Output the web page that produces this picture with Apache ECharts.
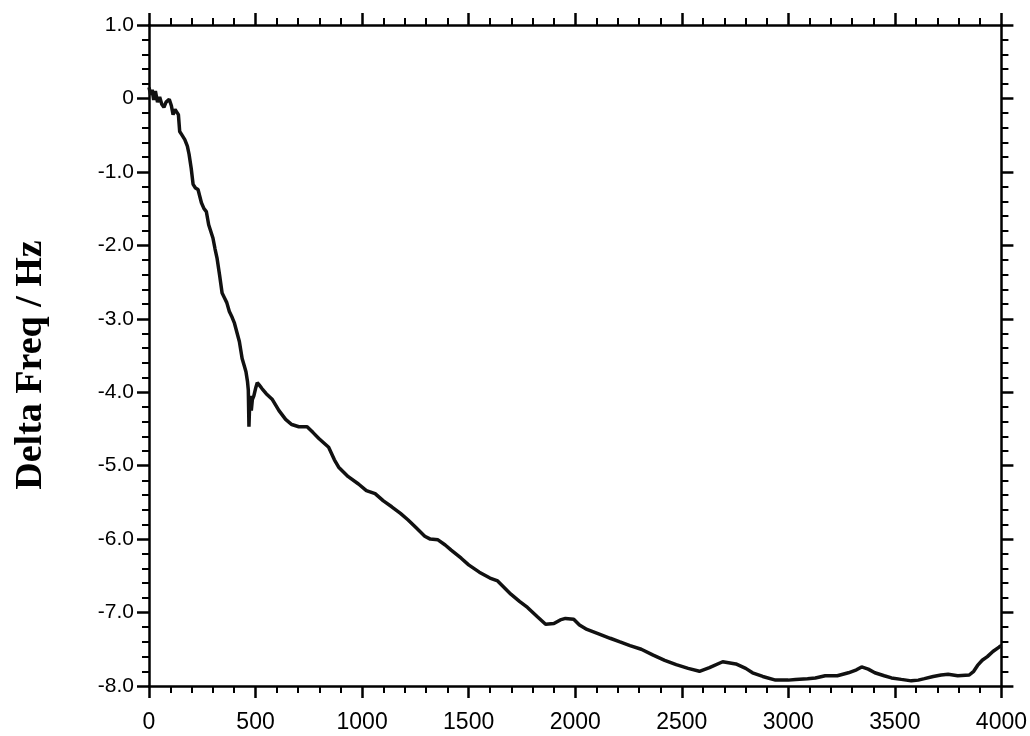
<!DOCTYPE html>
<html>
<head>
<meta charset="utf-8">
<script src="https://cdn.jsdelivr.net/npm/echarts@6/dist/echarts.min.js"></script>
<style>
html,body{margin:0;padding:0;background:#fff;}
#chart{width:1030px;height:736px;}
</style>
</head>
<body>
<div id="chart"></div>
<script>
var timeS = [0,8,15,22,30,40,50,60,70,80,95,105,113,122,129,138,144,155,168,180,188,198,207,218,230,246,258,269,280,300,310,319,331,343,355,365,377,390,401,412,424,437,447,455,462,466,469,472,476,480,485,492,500,508,517,530,550,579,610,641,670,703,742,770,797,843,870,890,935,983,1020,1061,1100,1139,1180,1216,1255,1294,1320,1356,1390,1418,1465,1500,1550,1600,1636,1698,1740,1776,1820,1861,1900,1930,1954,1993,2020,2055,2110,2164,2210,2257,2310,2366,2420,2474,2530,2583,2630,2692,2754,2800,2832,2880,2940,3000,3034,3090,3127,3173,3230,3282,3320,3344,3375,3406,3450,3484,3530,3577,3610,3639,3680,3717,3750,3795,3849,3870,3888,3910,3934,3960,3989,4000];
var deltaFreq = [0.15,0.05,0.12,-0.02,0.10,-0.05,0.02,-0.08,-0.12,-0.05,-0.01,-0.10,-0.22,-0.15,-0.17,-0.22,-0.45,-0.50,-0.56,-0.65,-0.76,-0.95,-1.17,-1.22,-1.24,-1.42,-1.50,-1.54,-1.72,-1.90,-2.05,-2.17,-2.40,-2.65,-2.72,-2.78,-2.90,-2.98,-3.06,-3.18,-3.31,-3.54,-3.64,-3.72,-3.85,-3.97,-4.47,-4.20,-4.05,-4.25,-4.10,-4.05,-3.95,-3.87,-3.90,-3.95,-4.02,-4.10,-4.25,-4.37,-4.44,-4.47,-4.47,-4.55,-4.63,-4.75,-4.92,-5.02,-5.15,-5.25,-5.34,-5.38,-5.48,-5.56,-5.65,-5.74,-5.85,-5.96,-6.00,-6.01,-6.08,-6.15,-6.26,-6.35,-6.45,-6.53,-6.57,-6.75,-6.85,-6.93,-7.05,-7.16,-7.15,-7.10,-7.08,-7.09,-7.17,-7.23,-7.29,-7.35,-7.40,-7.45,-7.50,-7.58,-7.65,-7.71,-7.76,-7.80,-7.75,-7.67,-7.70,-7.76,-7.82,-7.87,-7.92,-7.92,-7.91,-7.90,-7.89,-7.86,-7.86,-7.82,-7.78,-7.74,-7.77,-7.82,-7.86,-7.89,-7.91,-7.93,-7.92,-7.90,-7.87,-7.85,-7.84,-7.86,-7.85,-7.80,-7.72,-7.65,-7.60,-7.53,-7.47,-7.45];
var xTicks = {min:0, max:4000, interval:500};
var yTicks = {min:-8, max:1, interval:1};
var yTitle = 'Delta Freq / Hz';

var pts = timeS.map(function(t,i){return [t, deltaFreq[i]];});
var axisCommon = {
  axisLine:{show:true, onZero:false, lineStyle:{color:'#000', width:2.5}},
  axisTick:{show:true, inside:false, length:12, lineStyle:{color:'#000', width:2.5}},
  minorTick:{show:true, splitNumber:5, length:7, lineStyle:{color:'#000', width:2}},
  splitLine:{show:false}
};
function mk(base, extra){ return Object.assign({}, JSON.parse(JSON.stringify(base)), extra); }

var chart = echarts.init(document.getElementById('chart'));
chart.setOption({
  animation:false,
  backgroundColor:'#fff',
  grid:{left:149, right:24, top:25, bottom:50},
  xAxis:[
    mk(axisCommon,{type:'value', position:'bottom', min:xTicks.min, max:xTicks.max, interval:xTicks.interval,
      axisLabel:{show:true, margin:25, color:'#000', fontFamily:'"Liberation Sans Narrow", "Liberation Sans", Arial', fontSize:23,
        formatter:function(v){return String(v);}}}),
    mk(axisCommon,{type:'value', position:'top', min:xTicks.min, max:xTicks.max, interval:xTicks.interval,
      axisLabel:{show:false}})
  ],
  yAxis:[
    mk(axisCommon,{type:'value', position:'left', min:yTicks.min, max:yTicks.max, interval:yTicks.interval,
      axisLabel:{show:true, margin:15, color:'#000', fontFamily:'"Liberation Sans", Arial', fontSize:21,
        formatter:function(v){return v===0 ? '0' : v.toFixed(1);}}}),
    mk(axisCommon,{type:'value', position:'right', min:yTicks.min, max:yTicks.max, interval:yTicks.interval,
      axisLabel:{show:false}})
  ],
  graphic:[{
    type:'text', x:31, y:365, rotation:Math.PI/2,
    style:{text:yTitle, fill:'#000', font:'bold 38px "Liberation Serif", "Times New Roman", serif',
      textAlign:'center', textVerticalAlign:'middle'}
  }],
  series:[{
    type:'line', xAxisIndex:0, yAxisIndex:0, data:pts, showSymbol:false, symbol:'none',
    lineStyle:{color:'#111', width:3.5}, smooth:false
  }]
});
</script>
</body>
</html>
